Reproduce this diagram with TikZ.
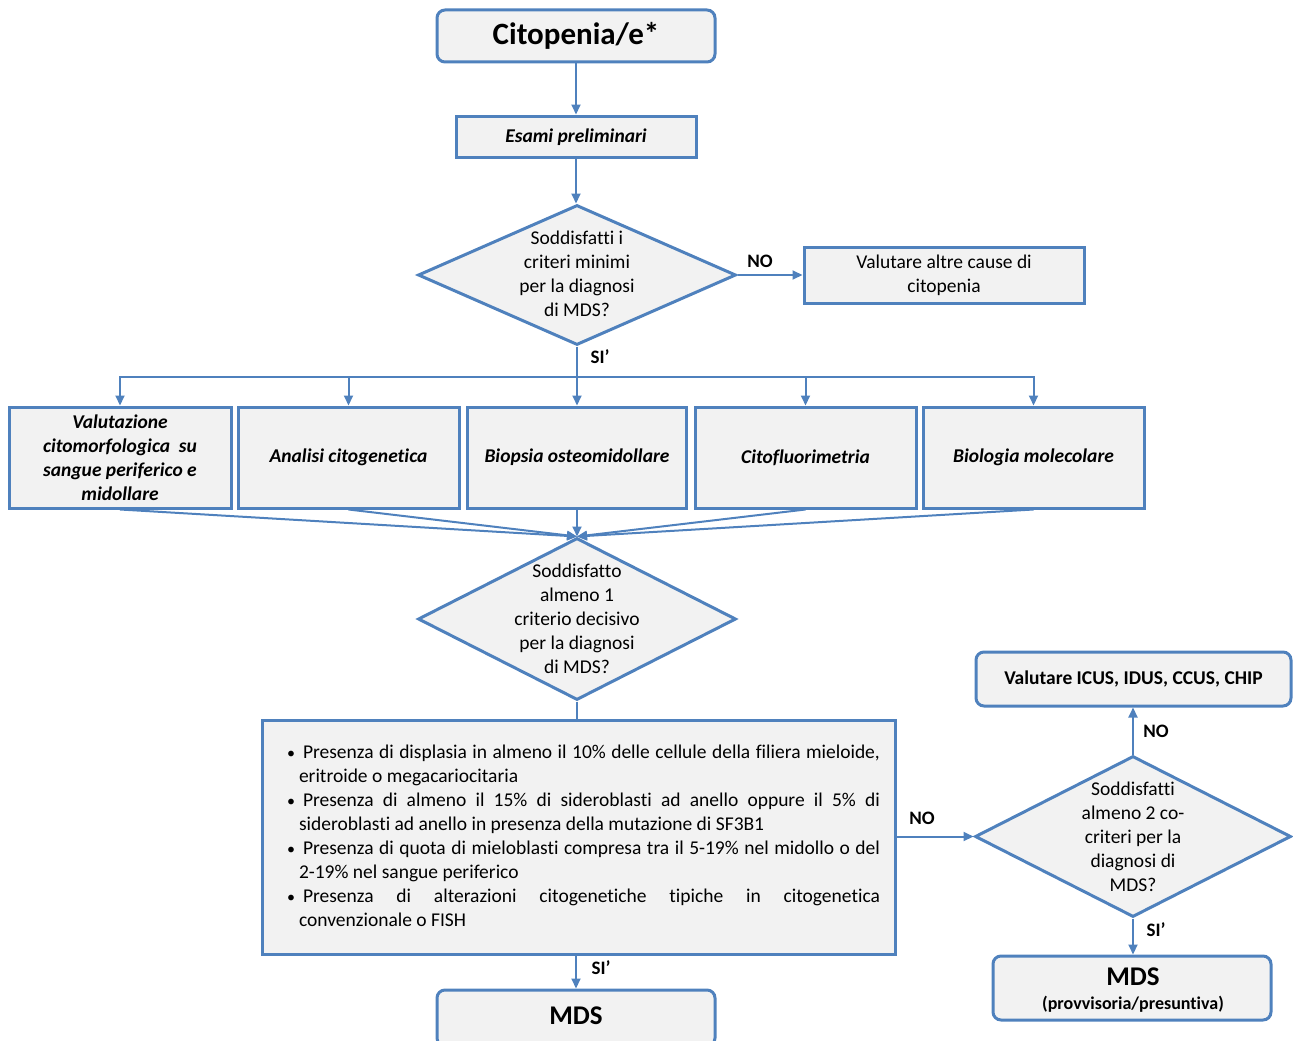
\documentclass[tikz,border=0pt]{standalone}
\usepackage{fontspec}
\setmainfont[Ligatures={NoCommon}]{Carlito}
\usetikzlibrary{arrows.meta,shapes.geometric}
\definecolor{bblue}{HTML}{4F81BD}
\definecolor{bfill}{HTML}{F2F2F2}
\newcommand{\critbul}{\hangindent=12pt\hangafter=1\makebox[16pt][l]{\fontsize{16}{24}\selectfont•}}
\begin{document}
\begin{tikzpicture}[x=1pt,y=-1pt,
  box/.style={draw=bblue,line width=3pt,fill=bfill,inner sep=0pt,align=center},
  rbox/.style={box,rounded corners=8pt},
  dia/.style={draw=bblue,line width=3pt,fill=bfill,diamond,inner sep=0pt},
  body/.style={font=\fontsize{19.5}{24}\selectfont,align=center,inner sep=0pt},
  bi/.style={font=\fontsize{19.5}{24}\selectfont\bfseries\itshape},
  conn/.style={draw=bblue,line width=2pt},
  arr/.style={conn,-{Triangle[length=10pt,width=9pt]}},
  lab/.style={font=\fontsize{19}{22}\selectfont\bfseries,inner sep=0pt}]
\useasboundingbox (0,0) rectangle (1293,1041);

% top
\node[rbox,minimum width=278pt,minimum height=52pt,font=\fontsize{31}{36}\selectfont\bfseries] (cit) at (576,36) {Citopenia/e*};
\node[box,minimum width=240pt,minimum height=41pt] (esa) at (576,136.5) {};
\node[bi,inner sep=0pt] (esat) at (576,137) {Esami preliminari};

% first diamond
\node[dia,minimum width=318pt,minimum height=140pt] (d1) at (577,275) {};
\node[body] (d1t) at (577,274) {Soddisfatti i\\criteri minimi\\per la diagnosi\\di MDS?};
\node[box,minimum width=280pt,minimum height=56pt,body] (alt) at (944,275) {Valutare altre cause di\\citopenia};

% five boxes
\node[box,minimum width=222pt,minimum height=101pt,bi] (b1) at (120,457.5) {Valutazione\\citomorfologica\ \ su\\sangue periferico e\\midollare};
\node[box,minimum width=221pt,minimum height=101pt,bi] (b2) at (348.5,457.5) {Analisi citogenetica};
\node[box,minimum width=219pt,minimum height=101pt,bi] (b3) at (577,457.5) {Biopsia osteomidollare};
\node[box,minimum width=221pt,minimum height=101pt,bi] (b4) at (805.5,457.5) {Citofluorimetria};
\node[box,minimum width=221pt,minimum height=101pt,bi] (b5) at (1033.5,457.5) {Biologia molecolare};

% second diamond
\node[dia,minimum width=318pt,minimum height=162pt] (d2) at (577,619) {};
\node[body] (d2t) at (577,619) {Soddisfatto\\almeno 1\\criterio decisivo\\per la diagnosi\\di MDS?};

% criteria box
\node[box,minimum width=633pt,minimum height=234pt] (crit) at (578.5,837) {};
\node[inner sep=0pt,text width=593pt,align=justify,font=\fontsize{19.5}{24}\selectfont] (critt) at (583.5,836) {%
\parindent=0pt
\critbul Presenza di displasia in almeno il 10\% delle cellule della filiera mieloide,\linebreak eritroide o megacariocitaria\par
\critbul Presenza di almeno il 15\% di sideroblasti ad anello oppure il 5\% di\linebreak sideroblasti ad anello in presenza della mutazione di SF3B1\par
\critbul Presenza di quota di mieloblasti compresa tra il 5-19\% nel midollo o del\linebreak 2-19\% nel sangue periferico\par
\critbul Presenza di alterazioni citogenetiche tipiche in citogenetica\linebreak convenzionale o FISH\par};

\node[rbox,minimum width=278pt,minimum height=56pt] (mds) at (576,1018) {};
\node[inner sep=0pt,font=\fontsize{27}{30}\selectfont\bfseries] (mdst) at (576,1016) {MDS};

% right side
\node[dia,minimum width=316pt,minimum height=161pt] (d3) at (1133,836.5) {};
\node[body] (d3t) at (1133,836.5) {Soddisfatti\\almeno 2 co-\\criteri per la\\diagnosi di\\MDS?};
\node[rbox,minimum width=315pt,minimum height=54pt,font=\fontsize{19.5}{24}\selectfont\bfseries] (icus) at (1133.5,679) {Valutare ICUS, IDUS, CCUS, CHIP};
\node[rbox,minimum width=278pt,minimum height=64pt] (mds2) at (1132,988) {};
\node[inner sep=0pt,font=\fontsize{27}{30}\selectfont\bfseries] (mds2a) at (1133,977) {MDS};
\node[inner sep=0pt,font=\fontsize{18}{20}\selectfont\bfseries] (mds2b) at (1133,1004) {(provvisoria/presuntiva)};

% connectors
\coordinate (split) at (577,377);
\draw[arr] (cit.south) -- (esa.north);
\draw[arr] (esa.south) -- (esa.south |- d1.north);
\draw[arr] (d1.east) -- (alt.west);
\draw[conn] (d1.south) -- (split);
\draw[arr] (split) -| (b1.north);
\draw[arr] (split) -| (b2.north);
\draw[arr] (split) -- (b3.north);
\draw[arr] (split) -| (b4.north);
\draw[arr] (split) -| (b5.north);
\foreach \b in {b1,b2,b3,b4,b5} {\draw[arr] (\b.south) -- (d2.north);}
\draw[conn] (d2.south) -- (d2.south |- crit.north);
\draw[arr] (mds.north |- crit.south) -- (mds.north);
\draw[arr] (crit.east |- d3.west) -- (d3.west);
\draw[arr] (d3.north) -- (d3.north |- icus.south);
\draw[arr] (d3.south) -- (d3.south |- mds2.north);

% labels
\node[lab] (l1) at (760,261) {NO};
\node[lab] (l2) at (600,357) {SI’};
\node[lab] (l3) at (601,968) {SI’};
\node[lab] (l4) at (922,818) {NO};
\node[lab] (l5) at (1156,731) {NO};
\node[lab] (l6) at (1156,930) {SI’};
\end{tikzpicture}
\end{document}
